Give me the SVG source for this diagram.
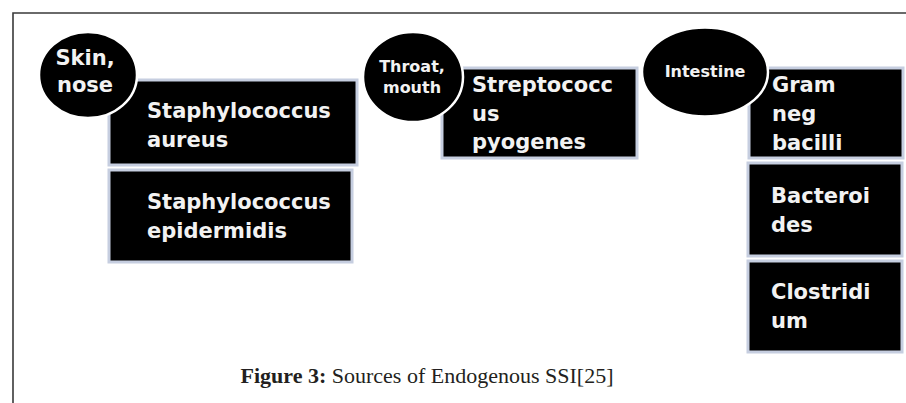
<svg xmlns="http://www.w3.org/2000/svg" width="906" height="403" viewBox="0 0 906 403">
<style>
.box{fill:#000;stroke:#c6cee0;stroke-width:3}
.oval{fill:#000;stroke:#fff;stroke-width:2.5}
.bt{font-family:"DejaVu Sans",sans-serif;font-weight:bold;font-size:21px;fill:#f2f2f2}
.ct{font-family:"DejaVu Sans",sans-serif;font-weight:bold;fill:#f2f2f2;text-anchor:middle}
.cap{font-family:"Liberation Serif",serif;font-size:22px;fill:#231f20}
</style>
<rect width="906" height="403" fill="#fff"/>
<path d="M13 403V13H906" fill="none" stroke="#3a3a3a" stroke-width="1.6"/>

<g id="staph-aureus">
<rect class="box" x="109" y="80" width="248" height="85"/>
<text class="bt" x="147" y="118">Staphylococcus</text>
<text class="bt" x="147" y="147">aureus</text>
</g>
<g id="staph-epidermidis">
<rect class="box" x="109" y="170" width="243" height="92"/>
<text class="bt" x="147" y="209">Staphylococcus</text>
<text class="bt" x="147" y="238">epidermidis</text>
</g>
<g id="skin-nose">
<ellipse class="oval" cx="88" cy="75" rx="49" ry="43"/>
<text class="ct" font-size="21" x="85" y="65">Skin,</text>
<text class="ct" font-size="21" x="85" y="92">nose</text>
</g>

<g id="strep-pyogenes">
<rect class="box" x="442" y="68" width="195" height="90"/>
<text class="bt" x="472" y="92">Streptococc</text>
<text class="bt" x="472" y="121">us</text>
<text class="bt" x="472" y="149">pyogenes</text>
</g>
<g id="throat-mouth">
<ellipse class="oval" cx="413" cy="77" rx="50" ry="45"/>
<text class="ct" font-size="16" x="412" y="72">Throat,</text>
<text class="ct" font-size="16" x="412" y="93">mouth</text>
</g>

<g id="gram-neg">
<rect class="box" x="749" y="68" width="154" height="90"/>
<text class="bt" x="772" y="92">Gram</text>
<text class="bt" x="772" y="121">neg</text>
<text class="bt" x="772" y="150">bacilli</text>
</g>
<g id="bacteroides">
<rect class="box" x="748" y="163" width="154" height="93"/>
<text class="bt" x="771" y="203">Bacteroi</text>
<text class="bt" x="771" y="232">des</text>
</g>
<g id="clostridium">
<rect class="box" x="748" y="261" width="154" height="91"/>
<text class="bt" x="771" y="299">Clostridi</text>
<text class="bt" x="771" y="328">um</text>
</g>
<g id="intestine">
<ellipse class="oval" cx="705" cy="72" rx="63" ry="44.5"/>
<text class="ct" font-size="16" x="705" y="77">Intestine</text>
</g>

<text class="cap" x="427" y="383" text-anchor="middle"><tspan font-weight="bold">Figure 3:</tspan> Sources of Endogenous SSI[25]</text>
</svg>
